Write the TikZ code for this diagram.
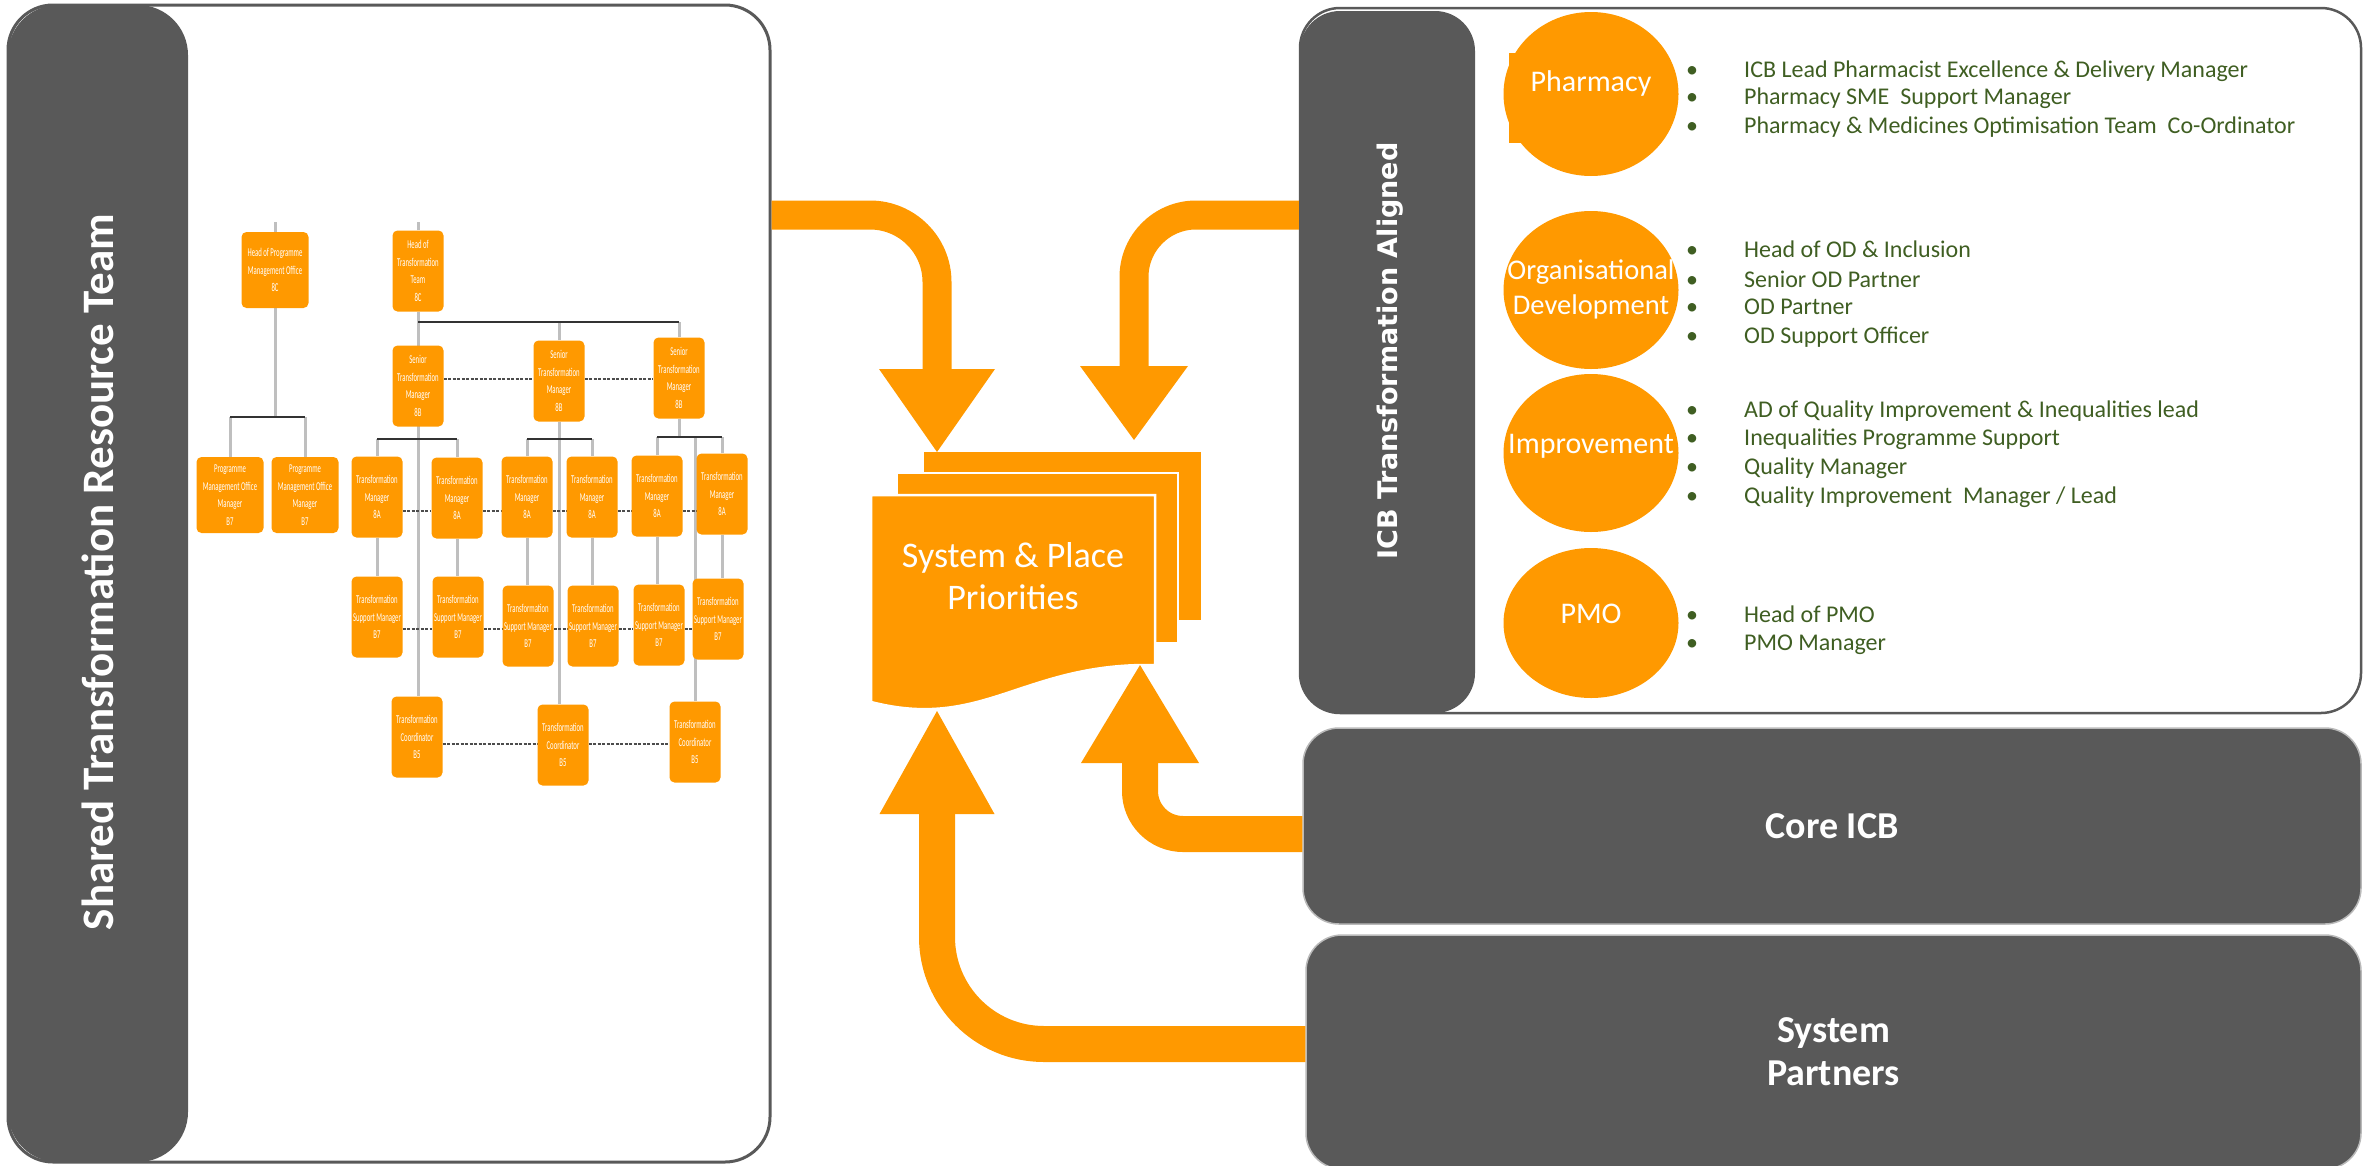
\documentclass[tikz,border=0pt]{standalone}
\usepackage{fontspec}
\setmainfont{Carlito}
\newfontfamily\orgfont[FakeStretch=0.56]{Carlito}
\newfontfamily\widefont{DejaVu Sans}
\usetikzlibrary{arrows.meta,shapes.geometric,backgrounds}

\definecolor{boxorange}{HTML}{FF9900}
\definecolor{panelgrey}{HTML}{595959}
\definecolor{linkgrey}{HTML}{BFBFBF}
\definecolor{listgreen}{HTML}{3F5E22}

\tikzset{
	panel/.style={draw=panelgrey, line width=3pt, rounded corners=45pt, inner sep=0pt},
	sidebar/.style={fill=panelgrey, rounded corners=50pt, inner sep=0pt},
	sidetitle/.style={rotate=90, text=white, font=\bfseries\fontsize{45}{54}\selectfont},
	greybox/.style={fill=panelgrey, draw=gray!55, line width=1.5pt, rounded corners=36pt, text=white, align=center, font=\bfseries\fontsize{38}{43}\selectfont},
	team/.style={ellipse, fill=boxorange, inner sep=0pt, minimum width=175pt, minimum height=158pt},
	teamlabel/.style={text=white, align=center, inner sep=0pt, font=\fontsize{30}{35}\selectfont},
	listitem/.style={anchor=base west, inner sep=0pt, text=listgreen, font=\fontsize{24}{28}\selectfont},
	orgbox/.style={fill=boxorange, rounded corners=5pt, text=white, align=center, inner sep=0pt, minimum width=51pt, minimum height=81pt, font=\orgfont\fontsize{12}{17.5}\selectfont},
	orgwide/.style={orgbox, minimum width=67pt, minimum height=76pt},
	greyline/.style={draw=linkgrey, line width=3pt},
	darkline/.style={draw=black!80, line width=1.5pt},
	dashline/.style={draw=black!70, line width=1.2pt, dash pattern=on 3pt off 1.5pt},
	sheet/.style={fill=boxorange, draw=white, line width=2.5pt},
	doctext/.style={text=white, align=center, font=\fontsize{36}{42}\selectfont},
	bigarrow/.style={draw=boxorange}
}

\begin{document}
\begin{tikzpicture}[x=1pt, y=-1pt]
	\useasboundingbox (0,0) rectangle (2364,1165);

	\node (shared) at (389,583.5) [panel, minimum width=762pt, minimum height=1157pt] {};
	\node (sharedbar) at (98,583.5) [sidebar, minimum width=180pt, minimum height=1157pt] {};
	\node (sharedtitle) at (98,572) [sidetitle] {Shared Transformation Resource Team};

	\node (aligned) at (1830.5,360.5) [panel, line width=2.5pt, rounded corners=40pt, minimum width=1061pt, minimum height=705pt] {};
	\node (alignedbar) at (1387.5,362) [sidebar, rounded corners=40pt, minimum width=175pt, minimum height=702pt] {};
	\node (alignedtitle) at (1390,351) [sidetitle, font=\widefont\bfseries\fontsize{27}{32}\selectfont] {ICB Transformation Aligned};

	\node (coreicb) at (1832,826) [greybox, minimum width=1058pt, minimum height=196pt] {Core ICB};
	\node (partners) at (1833.5,1052) [greybox, minimum width=1055pt, minimum height=234pt] {System\\Partners};

	\fill[boxorange] (1509,53) rectangle (1650,143);
	\node (pharmacy) at (1591,94) [team, minimum height=164pt] {};
	\node (orgdev) at (1591,290) [team] {};
	\node (improve) at (1591,453) [team] {};
	\node (pmo) at (1591,623) [team, minimum height=150pt] {};
	\node (pharmacylab) at (1591,83) [teamlabel] {Pharmacy};
	\node (orgdevlab) at (1591,289) [teamlabel, font=\fontsize{28.5}{35}\selectfont] {Organisational\\Development};
	\node (improvelab) at (1591,446) [teamlabel] {Improvement};
	\node (pmolab) at (1591,614) [teamlabel] {PMO};

	\foreach \yy/\txt in {77/{ICB Lead Pharmacist Excellence \& Delivery Manager},
			104/{Pharmacy SME~ Support Manager},
			133/{Pharmacy \& Medicines Optimisation Team~ Co-Ordinator},
			257/{Head of OD \& Inclusion},
			287/{Senior OD Partner},
			314/{OD Partner},
			343/{OD Support Officer},
			417/{AD of Quality Improvement \& Inequalities lead},
			445/{Inequalities Programme Support},
			474/{Quality Manager},
			503/{Quality Improvement~ Manager / Lead},
			622/{Head of PMO},
			650/{PMO Manager}}
		\node (item\yy) at (1686,\yy) [listitem] {\makebox[58pt][l]{\textbullet}\txt};

	\node (hopmo) at (275,270) [orgwide] {Head of Programme\\Management Office\\8C};
	\node (hott) at (418,271) [orgbox] {Head of\\Transformation\\Team\\8C};
	\node (stmA) at (418,386) [orgbox] {Senior\\Transformation\\Manager\\8B};
	\node (stmB) at (559,381) [orgbox] {Senior\\Transformation\\Manager\\8B};
	\node (stmC) at (679,378) [orgbox] {Senior\\Transformation\\Manager\\8B};
	\node (pmoA) at (230,495) [orgwide] {Programme\\Management Office\\Manager\\B7};
	\node (pmoB) at (305,495) [orgwide] {Programme\\Management Office\\Manager\\B7};
	\foreach \nm/\xx/\yy in {tmA/377/497, tmB/457/498, tmC/527/497, tmD/592/497, tmE/657/496, tmF/722/494}
		\node (\nm) at (\xx,\yy) [orgbox] {Transformation\\Manager\\8A};
	\foreach \nm/\xx/\yy in {tsmA/377/617, tsmB/458/617, tsmC/528/626, tsmD/593/626, tsmE/659/625, tsmF/718/619}
		\node (\nm) at (\xx,\yy) [orgbox] {Transformation\\Support Manager\\B7};
	\node (coA) at (417,737) [orgbox] {Transformation\\Coordinator\\B5};
	\node (coB) at (563,745) [orgbox] {Transformation\\Coordinator\\B5};
	\node (coC) at (695,742) [orgbox] {Transformation\\Coordinator\\B5};

	\coordinate (hopmotop) at (275,222);
	\coordinate (hotttop) at (418,222);
	\coordinate (pmobar) at (0,417);
	\coordinate (hottbar) at (0,322);
	\coordinate (barAB) at (0,439);
	\coordinate (barC) at (0,437);
	\coordinate (stmrow) at (0,379);
	\coordinate (tmrow) at (0,511);
	\coordinate (tsmrow) at (0,629);
	\coordinate (corow) at (0,744);

	\begin{scope}[on background layer]
		\draw[greyline] (hopmo) -- (hopmotop);
		\draw[greyline] (hott) -- (hotttop);
		\draw[greyline] (hopmo) -- (hopmo.south |- pmobar);
		\draw[greyline] (pmoA) -- (pmoA.north |- pmobar);
		\draw[greyline] (pmoB) -- (pmoB.north |- pmobar);
		\draw[greyline] (stmB) -- (stmB.north |- hottbar);
		\draw[greyline] (stmC) -- (stmC.north |- hottbar);
		\draw[greyline] (hott) -- (hott.south |- coA.north);
		\draw[greyline] (stmB) -- (stmB.south |- coB.north);
		\draw[greyline] (stmC) -- (stmC.south |- barC);
		\draw[greyline] (coC) -- (coC.north |- barC);
		\foreach \nm/\br in {tmA/barAB, tmB/barAB, tmC/barAB, tmD/barAB, tmE/barC, tmF/barC}
			\draw[greyline] (\nm) -- (\nm.north |- \br);
		\foreach \up/\dn in {tmA/tsmA, tmB/tsmB, tmC/tsmC, tmD/tsmD, tmE/tsmE, tmF/tsmF}
			\draw[greyline] (\up) -- (\up.south |- \dn.north);

		\draw[darkline] (pmoA.north |- pmobar) -- (pmoB.north |- pmobar);
		\draw[darkline] (hott.south |- hottbar) -- (stmC.north |- hottbar);
		\draw[darkline] (tmA.north |- barAB) -- (tmB.north |- barAB);
		\draw[darkline] (tmC.north |- barAB) -- (tmD.north |- barAB);
		\draw[darkline] (tmE.north |- barC) -- (tmF.north |- barC);

		\foreach \a/\b in {stmA/stmB, stmB/stmC}
			\draw[dashline] (\a.east |- stmrow) -- (\b.west |- stmrow);
		\foreach \a/\b in {tmA/tmB, tmB/tmC, tmC/tmD, tmD/tmE, tmE/tmF}
			\draw[dashline] (\a.east |- tmrow) -- (\b.west |- tmrow);
		\foreach \a/\b in {tsmA/tsmB, tsmB/tsmC, tsmC/tsmD, tsmD/tsmE, tsmE/tsmF}
			\draw[dashline] (\a.east |- tsmrow) -- (\b.west |- tsmrow);
		\foreach \a/\b in {coA/coB, coB/coC}
			\draw[dashline] (\a.east |- corow) -- (\b.west |- corow);
	\end{scope}

	\filldraw[sheet] (923,451) rectangle (1202,621);
	\filldraw[sheet] (897,473) rectangle (1178,643);
	\filldraw[sheet] (871,495) -- (1155,495) -- (1155,665) -- (1142,665)
		.. controls (1020,667) and (980,730) .. (871,702) -- cycle;
	\node (prio) at (1013,576) [doctext] {System \& Place\\Priorities};

	\coordinate (tipTL) at (937,452);
	\coordinate (tipTR) at (1134,440);
	\coordinate (tipLR) at (1140,665);
	\coordinate (tipLL) at (937,711);

	\draw[bigarrow, line width=29pt, rounded corners=67pt, -{Triangle[width=116pt, length=83pt, line width=0pt]}] (shared.east |- 0,215) -| (tipTL);
	\draw[bigarrow, line width=29pt, rounded corners=62pt, -{Triangle[width=108pt, length=74pt, line width=0pt]}] (aligned.west |- 0,215) -| (tipTR);
	\draw[bigarrow, line width=36pt, rounded corners=43pt, -{Triangle[width=118pt, length=98pt, line width=0pt]}] (coreicb.west |- 0,834) -| (tipLR);
	\draw[bigarrow, line width=36pt, rounded corners=107pt, -{Triangle[width=115pt, length=103pt, line width=0pt]}] (partners.west |- 0,1044) -| (tipLL);
\end{tikzpicture}
\end{document}
